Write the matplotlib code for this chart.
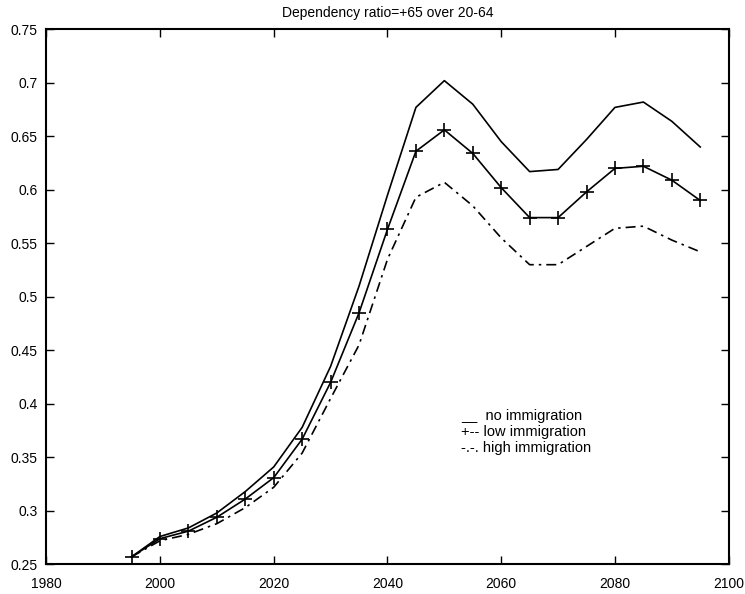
import numpy as np
import matplotlib.pyplot as plt

plt.rcParams["font.family"] = ["Liberation Sans", "DejaVu Sans"]

years = np.arange(1995, 2100, 5)

# dependency ratio (65+ over 20-64) per scenario
no_imm = [0.257, 0.276, 0.284, 0.298, 0.318, 0.341, 0.378, 0.435, 0.510, 0.595, 0.677,
          0.702, 0.680, 0.645, 0.617, 0.619, 0.647, 0.677, 0.682, 0.664, 0.640]
low_imm = [0.257, 0.274, 0.281, 0.294, 0.311, 0.331, 0.367, 0.420, 0.485, 0.563, 0.636,
           0.656, 0.634, 0.602, 0.574, 0.574, 0.598, 0.620, 0.622, 0.609, 0.590]
high_imm = [0.257, 0.272, 0.278, 0.288, 0.303, 0.322, 0.354, 0.405, 0.455, 0.535, 0.593,
            0.607, 0.585, 0.555, 0.530, 0.530, 0.547, 0.564, 0.566, 0.553, 0.542]

legend_lines = ["__  no immigration", "+-- low immigration", "-.-. high immigration"]

fig = plt.figure(figsize=(7.45, 5.94), dpi=100)
ax = fig.add_axes([0.0621, 0.050, 0.916, 0.9007])

ax.plot(years, no_imm, color="black", lw=1.2)
ax.plot(years, low_imm, color="black", lw=1.2, marker="+", ms=10, mew=1.2)
ax.plot(years, high_imm, color="black", lw=1.2, ls=(0, (6, 3, 1.5, 3)))

ax.set_xlim(1980, 2100)
ax.set_ylim(0.25, 0.75)
ax.set_xticks(np.arange(1980, 2101, 20))
ax.set_yticks(np.arange(0.25, 0.751, 0.05))
ax.set_yticklabels(["0.25", "0.3", "0.35", "0.4", "0.45", "0.5", "0.55",
                    "0.6", "0.65", "0.7", "0.75"])
ax.tick_params(direction="in", top=True, right=True, length=6, width=1,
               labelsize=10)
ax.tick_params(axis="x", pad=9)
ax.tick_params(axis="y", pad=6)
for s in ax.spines.values():
    s.set_linewidth(1.5)

ax.set_title("Dependency ratio=+65 over 20-64", fontsize=10, pad=9)

# hand-made legend, as in the original
for i, t in enumerate(legend_lines):
    ax.text(2053.0, 0.389 - i * 0.0152, t, fontsize=10.5, va="center", ha="left")

fig.savefig("out.png", dpi=100)
